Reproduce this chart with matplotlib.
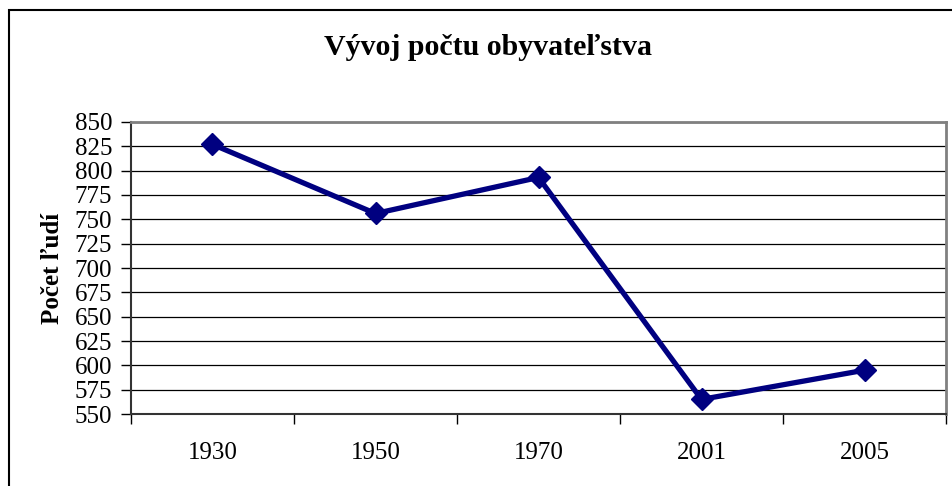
import matplotlib.pyplot as plt
from matplotlib.patches import Rectangle

years = ["1930", "1950", "1970", "2001", "2005"]
population = [827, 756, 793, 565, 595]
y_ticks = list(range(550, 851, 25))

plt.rcParams["font.family"] = ["Liberation Serif", "DejaVu Serif"]

fig = plt.figure(figsize=(9.53, 4.86), dpi=100)

# outer chart frame (Excel style), clipped at the right/bottom of the picture
fig.patches.append(Rectangle((9 / 953, -0.1), 1.1, (476 / 486) + 0.1,
                             transform=fig.transFigure, fill=False,
                             ec="black", lw=1.5))

ax = fig.add_axes([131 / 953, (486 - 414) / 486, (946 - 131) / 953, (414 - 122) / 486])

x = range(len(years))
ax.plot(x, population, color="#000080", lw=3.8, marker="D", ms=11,
        zorder=3, clip_on=False)

ax.set_xlim(-0.5, len(years) - 0.5)
ax.set_ylim(550, 850)
ax.set_yticks(y_ticks)
ax.set_xticks(list(x))
ax.set_xticklabels(years)
ax.set_xticks([i - 0.5 for i in range(len(years) + 1)], minor=True)

ax.yaxis.grid(True, color="black", lw=0.9)
ax.set_axisbelow(True)

ax.tick_params(axis="y", direction="out", length=7, width=1, labelsize=18, pad=6.5)
ax.tick_params(axis="x", which="major", length=0, labelsize=18, pad=20)
ax.tick_params(axis="x", which="minor", direction="out", length=7, width=1)

for side in ["top", "right"]:
    ax.spines[side].set_color("#808080")
    ax.spines[side].set_linewidth(2)
for side in ["left", "bottom"]:
    ax.spines[side].set_color("#333333")
    ax.spines[side].set_linewidth(1.5)

ax.set_ylabel("Počet ľudí", fontsize=18, fontweight="bold", labelpad=8)
fig.text(488 / 953, 1 - 47 / 486, "Vývoj počtu obyvateľstva", ha="center", va="center",
         fontsize=21.5, fontweight="bold")

fig.savefig("out.png", dpi=100)
